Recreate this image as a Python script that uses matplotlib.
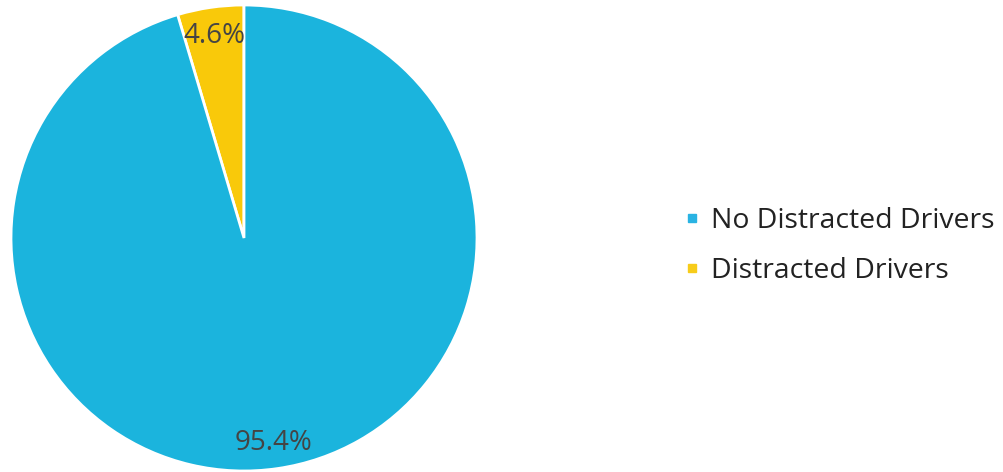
import matplotlib
matplotlib.use("Agg")
import matplotlib.pyplot as plt
from matplotlib.lines import Line2D

labels = ["No Distracted Drivers", "Distracted Drivers"]
shares = [95.4, 4.6]
colors = ["#1bb4dd", "#f9c90a"]
legend_colors = ["#29b3e3", "#f7cc1a"]

plt.rcParams["font.family"] = ["Open Sans", "DejaVu Sans"]

fig = plt.figure(figsize=(10.04, 4.72), dpi=100)
ax = fig.add_axes([11 / 1004, 1 / 472, 466 / 1004, 466 / 472])

# Draw the small slice first so it sits just left of twelve o'clock
order = [1, 0]
wedges, texts, autotexts = ax.pie(
    [shares[i] for i in order],
    colors=[colors[i] for i in order],
    startangle=90,
    counterclock=True,
    radius=1.0,
    autopct=lambda p: f"{p:.1f}%",
    pctdistance=0.89,
    wedgeprops=dict(edgecolor="white", linewidth=2.0),
    textprops=dict(color="#444444", fontsize=20),
)
autotexts[0].set_position((autotexts[0].get_position()[0],
                           autotexts[0].get_position()[1] - 0.015))
ax.set_xlim(-1, 1)
ax.set_ylim(-1, 1)
ax.set_aspect("equal")
ax.axis("off")

handles = [
    Line2D([], [], marker="s", linestyle="none", markersize=5.5,
           markerfacecolor=c, markeredgecolor=c)
    for c in legend_colors
]
fig.legend(
    handles, labels,
    loc="center left",
    bbox_to_anchor=(659 / 1004, 1 - 246 / 472),
    frameon=False,
    fontsize=20.4,
    handlelength=0.5,
    handletextpad=0.42,
    labelspacing=0.8,
    labelcolor="#222222",
)

fig.savefig("out.png", dpi=100, facecolor="white")
